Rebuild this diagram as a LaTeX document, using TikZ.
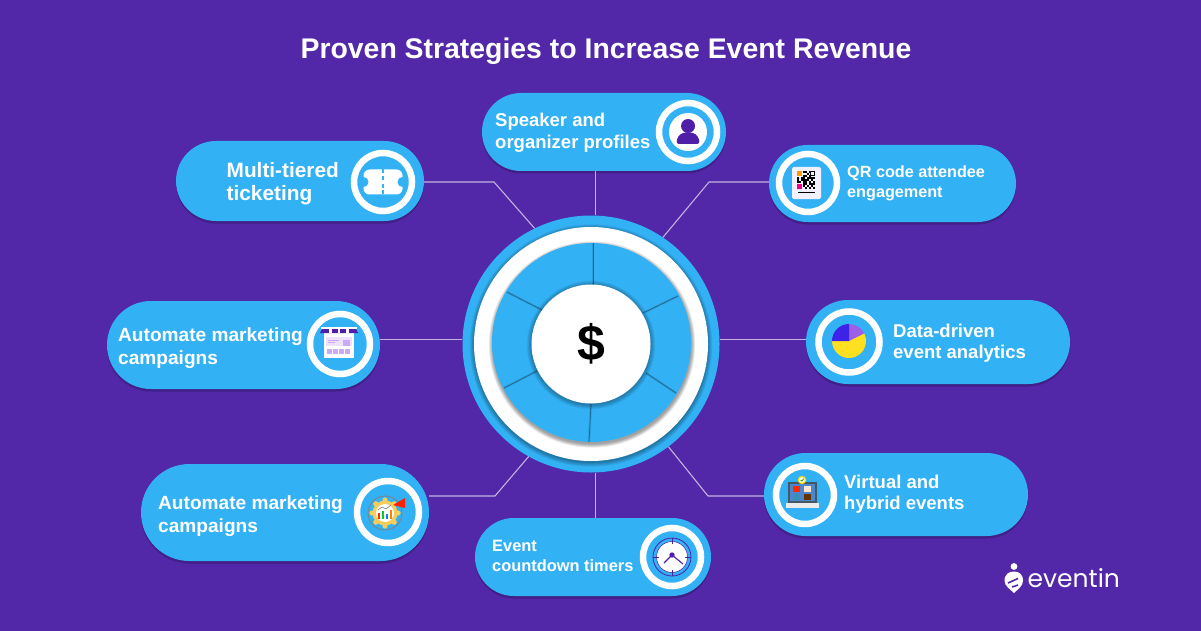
\documentclass[tikz,border=0pt]{standalone}
\usepackage{fontspec}
\setmainfont{Liberation Sans}
\newfontfamily\logofont{Poppins}
\usetikzlibrary{shapes.misc,shadows,calc}
\definecolor{bgpurple}{RGB}{82,39,168}
\definecolor{pillblue}{RGB}{51,177,245}
\definecolor{deeppurple}{RGB}{79,31,168}
\definecolor{lilac}{RGB}{205,170,248}
\definecolor{piegold}{RGB}{255,224,32}
\definecolor{pieblue}{RGB}{61,34,232}
\definecolor{pieviolet}{RGB}{155,95,232}
\definecolor{geargold}{RGB}{245,205,90}
\newcommand{\pillfont}[2]{\fontsize{#1}{#2}\selectfont\bfseries}
\tikzset{
    pill/.style ={
        rounded rectangle,
        fill=pillblue,
        inner sep=0pt,
        drop shadow={shadow xshift=0pt,shadow yshift=-2.5pt,opacity=.2,fill=black}
    },
    pilltxt/.style ={
        anchor=west,
        align=left,
        text=white,
        inner sep=0pt
    },
    ring/.style ={
        circle,
        draw=white,
        line width=6.5pt,
        inner sep=0pt
    },
    disc/.style ={
        circle,
        inner sep=0pt
    },
    link/.style ={
        draw=white,
        draw opacity=.65,
        line width=1.1pt
    }
}
\begin{document}
\begin{tikzpicture}[x=1pt,y=-1pt]
    \useasboundingbox (0,0) rectangle (1201,631);
    \fill[bgpurple] (0,0) rectangle (1201,631);
    \node[text=white,font=\pillfont{28.4}{32}] (TITLE) at(606,51.5) {Proven Strategies to Increase Event Revenue};

    % hub
    \node[disc,fill=pillblue,minimum size=257pt] (HUB) at(591,344) {};
    \foreach \d in {1,...,6}
        \fill[black,opacity=.06] (591,345.5) circle[radius=116.5+\d*.8];
    \node[disc,fill=white,minimum size=234pt] (PLATE) at(591,344) {};
    \foreach \d in {1,...,6}
        \fill[black,opacity=.07] (592,344.5) circle[radius=99+\d*.7];
    \node[disc,fill=pillblue,minimum size=199pt] (WHEEL) at(591.5,342.5) {};
    \foreach \xa/\ya/\xb/\yb in {593/285/593/243,643/313/678/296,646/373/676/393,591/404/589/442,537/371/504/388,542/310/507/292}{
        \draw[black,opacity=.1,line width=2.4pt] (\xa,\ya)--(\xb,\yb);
        \draw[black!45!pillblue,line width=.6pt] (\xa,\ya)--(\xb,\yb);
    }
    \foreach \d in {1,...,6}
        \fill[black,opacity=.05] (591,345) circle[radius=59.5+\d*.8];
    \node[disc,fill=white,minimum size=119pt,font=\fontsize{50}{50}\selectfont\bfseries] (CORE) at(591,344) {\$};

    % pills
    \node[pill,minimum width=244pt,minimum height=78pt] (SPEAKER) at(604,132) {};
    \node[pill,minimum width=248pt,minimum height=80pt] (TICKET) at(300,181) {};
    \node[pill,minimum width=247pt,minimum height=77pt] (QRCODE) at(892.5,183.5) {};
    \node[pill,minimum width=273pt,minimum height=88pt] (CAMPAIGNA) at(243.5,345) {};
    \node[pill,minimum width=264pt,minimum height=84pt] (ANALYTICS) at(938,342) {};
    \node[pill,minimum width=288pt,minimum height=97pt] (CAMPAIGNB) at(285,512.5) {};
    \node[pill,minimum width=264pt,minimum height=83pt] (HYBRID) at(896,494.5) {};
    \node[pill,minimum width=236pt,minimum height=78pt] (TIMERS) at(593,557) {};

    % links
    \draw[link] (HUB.88)--(HUB.88 |- SPEAKER.south);
    \draw[link] (TICKET.east |- 494,182)--(494,182)--(HUB.116);
    \draw[link] (QRCODE.west |- 709,182)--(709,182)--(HUB.56);
    \draw[link] (HUB.178)--(HUB.178 -| CAMPAIGNA.east);
    \draw[link] (HUB.2)--(HUB.2 -| ANALYTICS.west);
    \draw[link] (CAMPAIGNB.east |- 495,496)--(495,496)--(HUB.241);
    \draw[link] (HYBRID.west |- 708,496)--(708,496)--(HUB.-53);
    \draw[link] (HUB.272)--(HUB.272 |- TIMERS.north);

    % labels
    \node[pilltxt,font=\pillfont{18.5}{21.5}] (SPEAKERTXT) at(495,133) {Speaker and\\organizer profiles};
    \node[pilltxt,font=\pillfont{20.8}{23}] (TICKETTXT) at(226.5,184) {Multi-tiered\\ticketing};
    \node[pilltxt,font=\pillfont{16.2}{20}] (QRCODETXT) at(847,183) {QR code attendee\\engagement};
    \node[pilltxt,font=\pillfont{19.1}{22.5}] (CAMPAIGNATXT) at(118,348) {Automate marketing\\campaigns};
    \node[pilltxt,font=\pillfont{18.5}{21.5}] (ANALYTICSTXT) at(893,343) {Data-driven\\event analytics};
    \node[pilltxt,font=\pillfont{19.1}{22.5}] (CAMPAIGNBTXT) at(158,516) {Automate marketing\\campaigns};
    \node[pilltxt,font=\pillfont{18.5}{21.5}] (HYBRIDTXT) at(844,494) {Virtual and\\hybrid events};
    \node[pilltxt,font=\pillfont{16.4}{20}] (TIMERSTXT) at(492,556) {Event\\countdown timers};

    % icon rings
    \node[ring,minimum size=58pt] (SPEAKERRING) at(688,132) {};
    \node[ring,minimum size=58pt] (TICKETRING) at(383,182) {};
    \node[ring,minimum size=58pt] (QRCODERING) at(808,183) {};
    \node[ring,minimum size=60pt] (CAMPAIGNARING) at(340,344) {};
    \node[ring,minimum size=61pt] (ANALYTICSRING) at(849,342) {};
    \node[ring,minimum size=62pt] (CAMPAIGNBRING) at(388,512) {};
    \node[ring,minimum size=58pt] (HYBRIDRING) at(805,495) {};
    \node[ring,minimum size=58pt] (TIMERSRING) at(672,557) {};

    % speaker icon
    \fill[white] (688,132) circle[radius=19];
    \fill[deeppurple] (688,126) circle[radius=7];
    \fill[deeppurple,rounded corners=3pt] (676,144)--(678,136)--(683,132.5)--(693,132.5)--(698,136)--(700,144)--cycle;

    % ticket icon
    \fill[white,rounded corners=6pt] (363.5,169.5) rectangle (402.5,194.5);
    \fill[pillblue] (363.5,182) circle[radius=5] (402.5,182) circle[radius=5];
    \foreach \y in {169.5,176,184,190.5}
        \fill[pillblue] (382,\y) rectangle (384,\y+4);

    % qr icon
    \fill[blue!6,rounded corners=2pt] (792,167) rectangle (821,199);
    \foreach \i/\j in {3/0,4/0,6/0,5/1,3/2,4/2,6/2,3/3,5/3,7/3,8/3,0/3,2/3,0/4,1/5,3/4,2/4,4/4,5/4,7/4,0/5,3/5,4/5,6/5,8/5,3/6,4/6,6/6,8/6,3/7,5/7,7/7,4/8,6/8,8/8,7/6,6/3}
        \fill[black] (797+\i*2,171+\j*2) rectangle ++(2,2);
    \fill[orange!80!yellow] (797,171) rectangle ++(5,5);
    \draw[black,line width=1pt] (810.5,171.5) rectangle ++(4,4);
    \fill[magenta] (797,184) rectangle ++(5,5);
    \draw[black,line width=1pt] (798,193)--(815,193);

    % store icon
    \fill[white] (324,330) rectangle (354,358);
    \fill[lilac!35] (326,337) rectangle (352,346);
    \fill[lilac] (343,340) rectangle (350,346);
    \draw[lilac,line width=.6pt] (328,340)--(339,340) (328,342.5)--(335,342.5);
    \foreach \x in {327,333,339,345}
        \fill[lilac] (\x,349) rectangle ++(5,5);
    \foreach \x in {326,334.5,343,351.5}
        \fill[deeppurple] (\x,330) circle[radius=3];
    \fill[white] (321,326.5) rectangle (357,329);
    \fill[deeppurple] (322,329)--(356,329)--(358,333)--(320,333)--cycle;
    \foreach \x in {330.5,339,347.5}
        \fill[white] (\x-1.3,329) rectangle ++(2.6,4);

    % gear icon
    \draw[gray,line width=.8pt] (385,513) circle[radius=17];
    \foreach \a in {0,45,...,315}
        \fill[geargold] (385,513) ++(\a:13pt) circle[radius=2.6];
    \fill[geargold] (385,513) circle[radius=12.5];
    \fill[white] (385,513) circle[radius=9];
    \draw[gray,line width=.6pt] (378,510)--(382,507)--(386,509)--(391,505);
    \fill[red!70!orange] (378,513) rectangle ++(2,6);
    \fill[green!60!teal] (382,511) rectangle ++(2,8);
    \fill[cyan!70!blue] (386,514) rectangle ++(2,5);
    \fill[orange] (390,510) rectangle ++(2,9);
    \fill[red!75!orange] (393,505)--(405,498)--(405,508)--cycle;

    % pie icon
    \coordinate (PIE) at(849,341);
    \fill[piegold] (PIE)--++(27:17pt) arc[start angle=27,end angle=-180,radius=17pt]--cycle;
    \fill[pieviolet] (PIE)--++(90:17pt) arc[start angle=90,end angle=27,radius=17pt]--cycle;
    \fill[pieblue] (PIE)--++(180:17pt) arc[start angle=180,end angle=90,radius=17pt]--cycle;

    % laptop icon
    \fill[black!70!cyan] (788,482) rectangle (817,503);
    \fill[cyan!50!blue!75!white] (790,484) rectangle (815,501);
    \fill[red!70!orange] (793,486) rectangle ++(7,6);
    \fill[white!80!orange] (804,486) rectangle ++(7,6);
    \fill[cyan!70!black] (793,494) rectangle ++(7,6);
    \fill[black!60!orange] (804,494) rectangle ++(7,6);
    \fill[black!8] (786,503) rectangle (819,508);
    \fill[yellow!80!orange] (802,480) circle[radius=4.2];
    \fill[white] (802,480) circle[radius=2.8];
    \draw[green!60!black,line width=.7pt] (800.5,480)--(801.7,481.2)--(803.6,478.8);

    % clock icon
    \draw[deeppurple,line width=.8pt] (672,557) circle[radius=19];
    \fill[white] (672,557) circle[radius=15.5];
    \draw[deeppurple,line width=.5pt] (672,557) circle[radius=15.5];
    \foreach \xa/\ya/\xb/\yb in {672/538/672/544,672/570/672/576,653/557/659/557,685/557/691/557}
        \draw[deeppurple,line width=.8pt] (\xa,\ya)--(\xb,\yb);
    \draw[deeppurple,line width=1.1pt] (664,563)--(672,555)--(683,564);
    \fill[deeppurple] (672,555) circle[radius=2.7];

    % logo
    \fill[white] (1014,566.5) circle[radius=3.4];
    \fill[white] (1004.5,581) .. controls (1004.5,574) and (1009,571.5) .. (1014,571.5) .. controls (1019,571.5) and (1023,574) .. (1023,581) .. controls (1023,586) and (1017,590) .. (1014,593) .. controls (1011,590) and (1004.5,586) .. (1004.5,581)--cycle;
    \draw[bgpurple,line width=1.6pt] (1008,583)--(1018,578.5);
    \draw[bgpurple,line width=1.6pt] (1018,585)--(1012,587);
    \node[anchor=base west,inner sep=0pt,text=white,font=\logofont\fontsize{25}{25}\selectfont] (LOGO) at(1027.5,587) {eventin};
\end{tikzpicture}
\end{document}
